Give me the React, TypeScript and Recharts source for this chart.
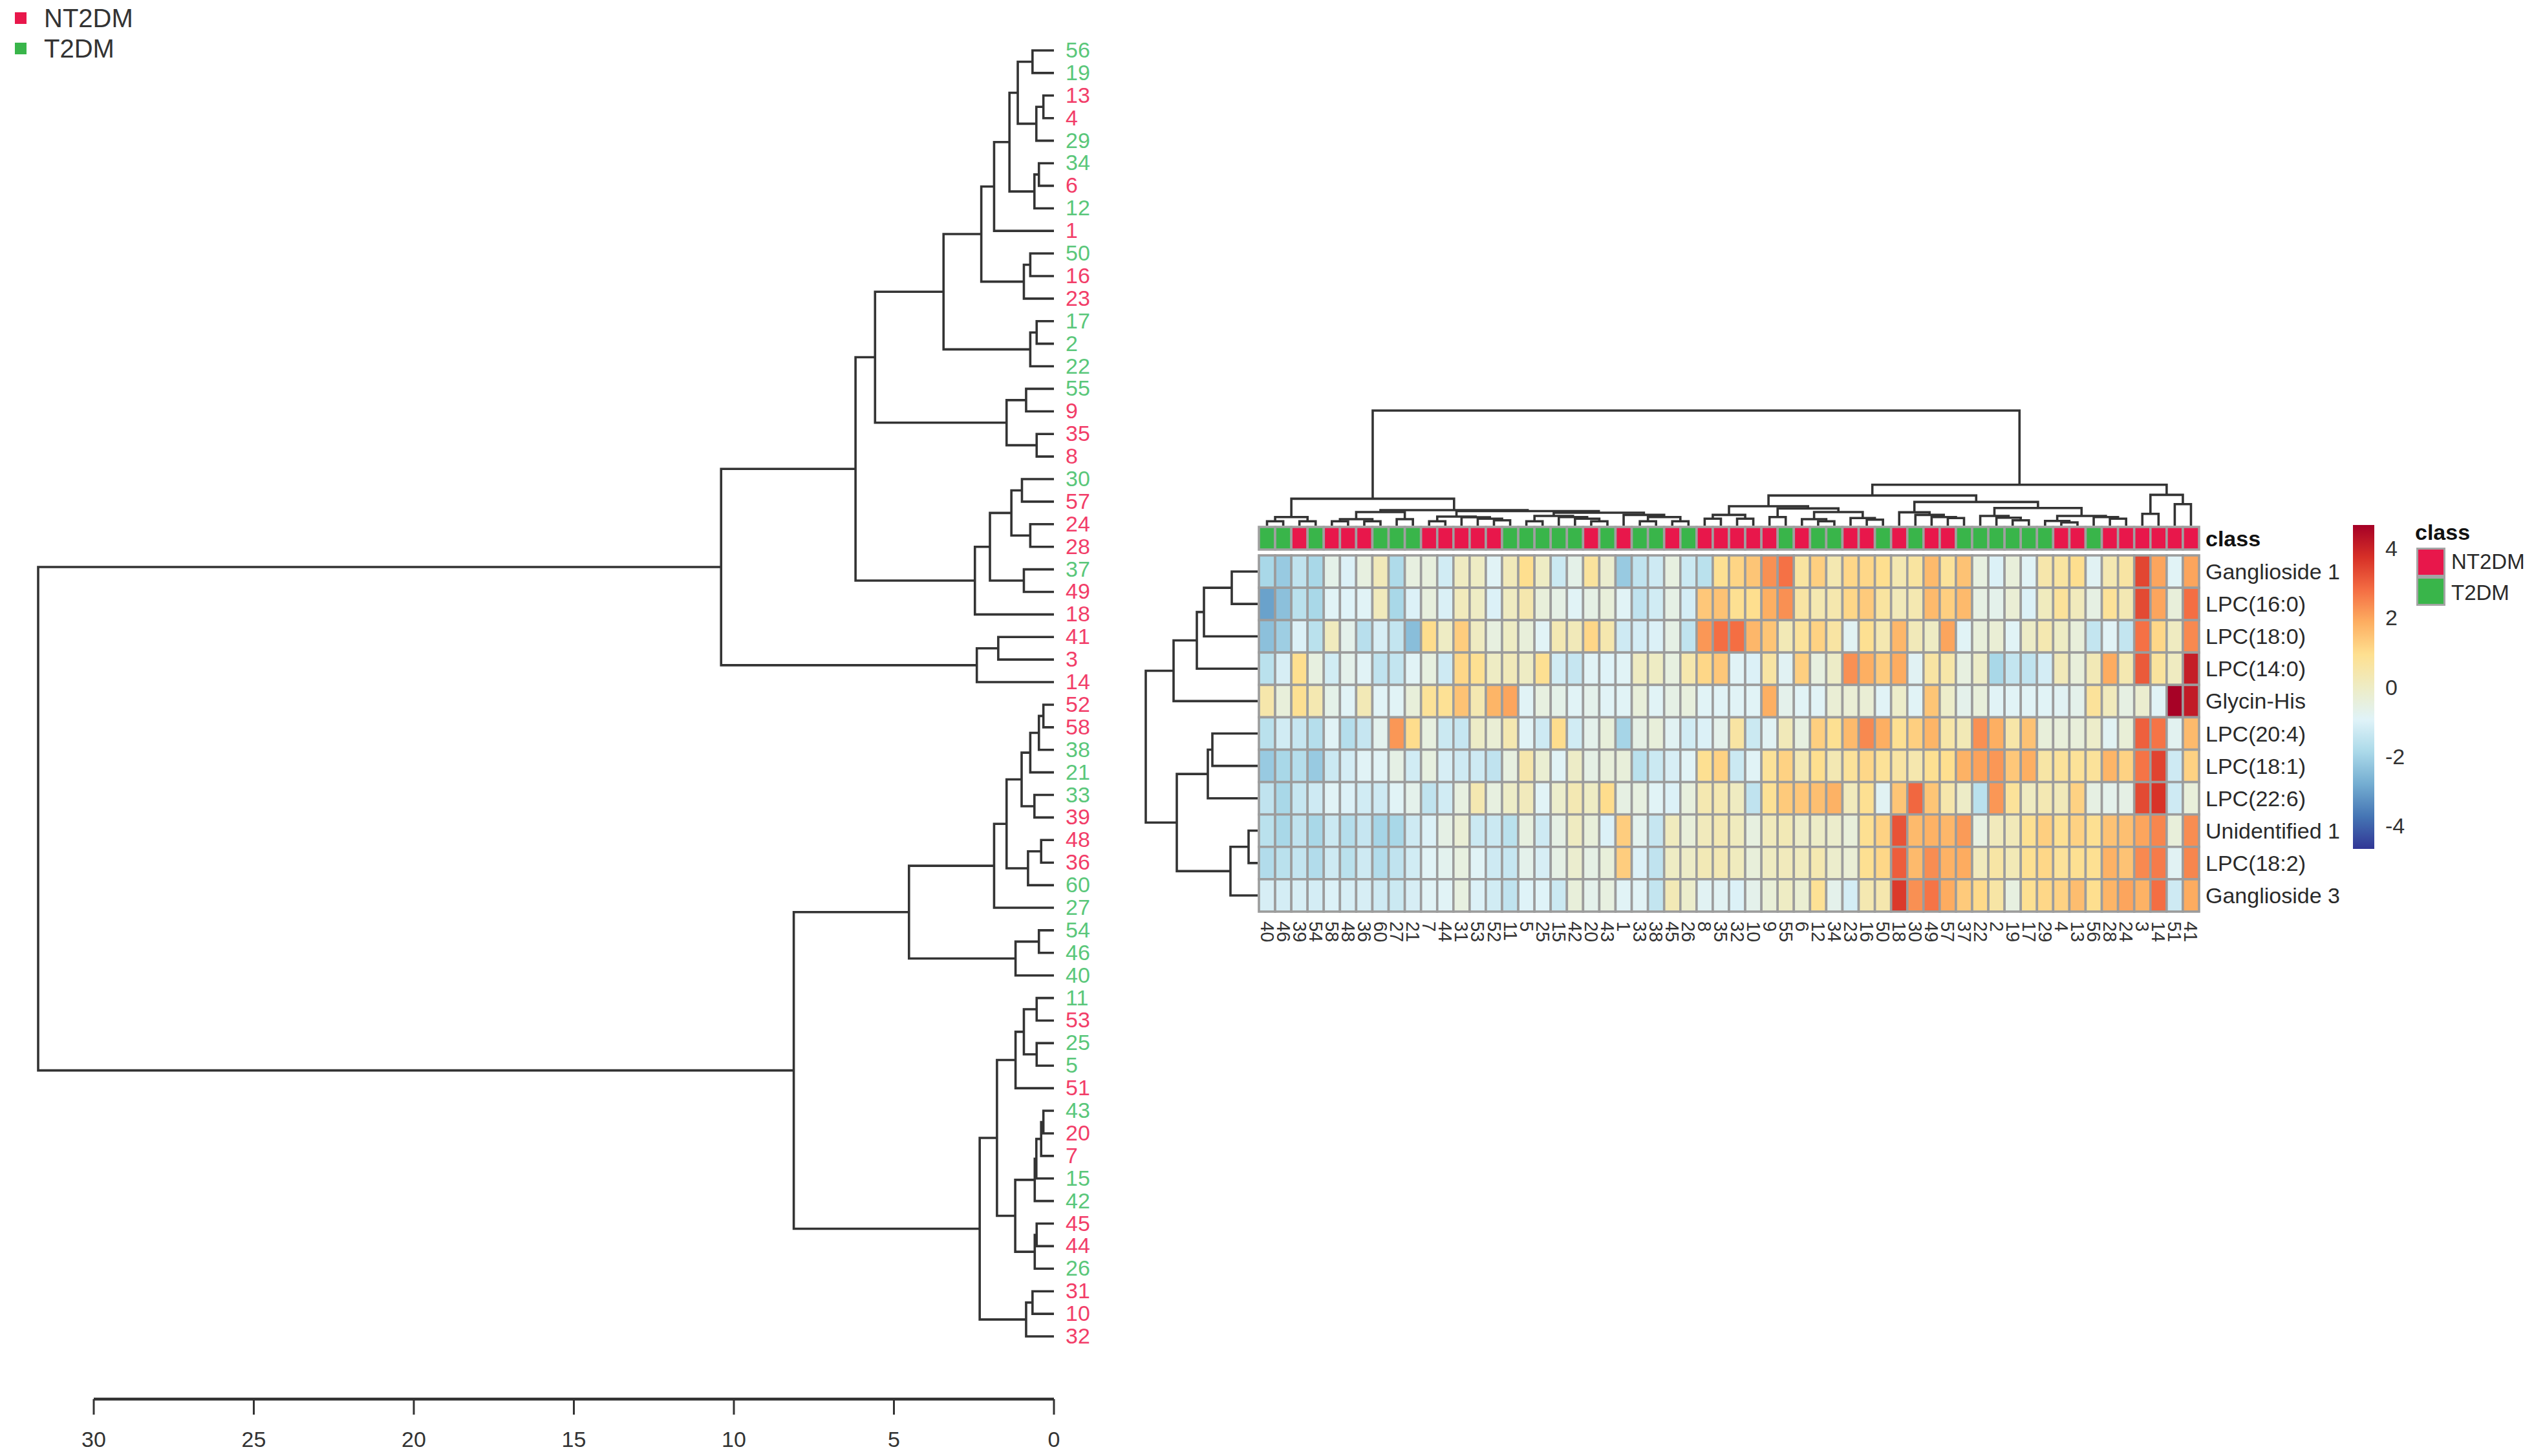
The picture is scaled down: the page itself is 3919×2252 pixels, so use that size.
import React from "react";
import { ScatterChart, Scatter, XAxis, YAxis, BarChart, Bar, Legend } from "recharts";

const FONT = "'Liberation Sans', Arial, sans-serif";

const classNames = ["NT2DM", "T2DM"];
const classColors = ["#e8174b", "#39b54a"];
const t2dmSamples = [56,19,29,34,12,50,17,2,22,55,30,37,38,21,33,60,27,54,46,40,11,25,5,43,15,42,26];

const rowLabels = ["Ganglioside 1","LPC(16:0)","LPC(18:0)","LPC(14:0)","Glycin-His","LPC(20:4)","LPC(18:1)","LPC(22:6)","Unidentified 1","LPC(18:2)","Ganglioside 3"];

// Colour stops, low to high
const palette = ["#313695","#4575b4","#74add1","#abd9e9","#e0f3f8","#eeecc4","#fee090","#fdae61","#f46d43","#d73027","#a50026"];
const colourLimit = 4.68;
const colourTicks = [-4,-2,0,2,4];
const distanceTicks = [30,25,20,15,10,5,0];

// Sample dendrogram (left): [merge height, left child, right child]
const upperA = [3.45,[2.27,[1.87,[1.39,[1.13,[0.67,56,19],[0.55,[0.33,13,4],29]],[0.61,[0.47,34,6],12]],1],[0.94,[0.74,50,16],23]],[0.74,[0.54,17,2],22]];
const upperB = [5.59,upperA,[1.48,[0.87,55,9],[0.54,35,8]]];
const upperC = [2.47,[2.0,[1.33,[1.0,30,57],[0.74,24,28]],[0.94,37,49]],18];
const upperTree = [10.4,[6.2,upperB,upperC],[2.41,[1.74,41,3],14]];
const lowerA = [4.53,[1.87,[1.48,[1.01,[0.74,[0.47,[0.33,52,58],38],21],[0.61,33,39]],[0.81,[0.4,48,36],60]],27],[1.2,[0.47,54,46],40]];
const lowerB = [1.78,[1.2,[0.94,[0.54,11,53],[0.54,25,5]],51],[1.21,[0.6,[0.55,[0.4,[0.33,43,20],7],15],42],[0.6,[0.54,45,44],26]]];
const lowerTree = [8.13,lowerA,[2.32,lowerB,[0.87,[0.67,31,10],32]]];
const sampleTree = [31.74,upperTree,lowerTree];

// Column dendrogram (top)
const colA = [1.33,[0.67,40,46],[0.67,39,54]];
const colB = [2.1,[1.0,[0.67,58,48],[0.67,36,60]],[1.0,27,21]];
const colC = [1.4,[0.67,7,44],[1.3,31,[1.07,53,[0.83,52,11]]]];
const colD = [1.5,[0.67,5,25],[1.33,15,[1.07,42,[0.67,20,43]]]];
const colE = [1.67,1,[1.33,[0.67,33,38],[0.67,45,26]]];
const colLeft = [4.17,colA,[2.4,colB,[2.25,colC,[2.0,colD,colE]]]];
const colF = [3.0,[1.67,[1.07,8,35],[1.07,32,10]],[2.67,[1.33,9,55],[2.1,[1.0,6,[0.67,12,34]],[1.17,23,[0.93,16,50]]]]];
const colG = [3.67,[2.07,18,[1.67,30,[1.33,49,[1.17,57,37]]]],[2.73,[1.5,22,[1.23,2,[0.83,19,17]]],[1.5,[0.73,29,[0.5,4,13]],[1.33,56,[1.07,28,24]]]]];
const colRight = [6.33,[4.67,colF,colG],[4.77,[1.83,3,14],[3.33,51,41]]];
const columnTree = [17.83,colLeft,colRight];

// Feature dendrogram (left of the heatmap); leaves are row numbers
const featureTree = [17.3,[13.0,[9.4,[8.3,[4.0,0,1],2],3],4],[12.5,[7.7,[7.0,5,6],7],[4.2,[1.4,8,9],10]]];

// Heatmap values by row, in column order
const row0 = [-1.9,-2.2,-1.5,-1.9,-0.65,-1.0,-0.5,0.2,-1.8,-0.5,-0.45,-1.2,0.05,0,-0.9,0.2,0.95,0,-1.3,-0.65,0.7,-0.2,-2.2,-1.5,-1.25,-0.5,-1.3,-1.6,0.9,1.15,1.45,2.3,2.75,0.65,1.25,0.35,1.1,1.1,0.95,0.35,0.65,1.65,0.75,1.5,-0.5,-1.0,-0.4,-0.9,0.45,0.65,0.95,-0.85,0.35,0.6,3.4,2.0,-0.9,2.0];
const row1 = [-3.0,-2.4,-1.6,-1.9,-0.9,-0.95,-0.9,0.15,-1.9,-1.0,-0.45,-1.05,0.15,0,-1.0,0.05,0.4,-0.4,-0.6,-0.9,-0.6,-0.4,-0.9,-1.5,-1.2,-0.6,-1.15,1.4,1.5,0.9,0.95,1.85,2.3,0.6,0.35,0.4,1.1,1.35,0.65,0.2,0.35,1.65,1.25,1.65,-0.55,-0.7,-0.3,-1.0,0.1,0.75,0.15,-0.55,0.8,0.3,3.35,2.0,-0.4,2.8];
const row2 = [-2.4,-2.1,-1.0,-1.6,0.1,-0.7,-1.65,-1.1,-1.45,-2.45,1.0,0,1.3,0.05,-0.5,0,-0.4,-0.9,0.3,0.2,1.1,0.4,-1.25,-1.15,-1.0,-0.6,-1.5,2.2,2.8,2.8,1.7,1.45,0.25,0.75,1.2,0.6,-0.85,0.9,0.35,1.7,0.2,0,2.0,-0.9,-0.4,-0.3,-0.9,-0.05,0.35,0,-0.4,-1.45,-0.9,-1.45,2.75,1.1,0.05,2.4];
const row3 = [-1.6,-1.1,0.95,-0.5,-1.2,-0.7,-0.9,-1.5,-1.45,-0.9,-0.5,-1.25,1.1,0.9,0,0.2,0,0.9,-1.2,-1.4,-0.9,-0.95,-0.9,0.05,0,-0.5,0.4,1.1,1.4,-0.9,-1.0,0.6,-0.85,1.25,-0.5,-0.05,2.3,1.85,1.35,1.9,-0.85,0.6,0.5,-0.5,-0.05,-1.9,-1.45,-1.5,-1.15,0.2,-0.4,0.25,1.9,0.35,3.1,0.7,0.05,4.1];
const row4 = [0.45,-0.4,0.9,0.35,-0.65,-0.9,0.25,-0.9,-0.9,-0.4,0.8,0.85,1.5,0.35,1.75,2.0,-0.9,-0.5,-0.65,-0.9,-0.7,-0.9,-0.9,-0.4,-0.9,-0.6,-0.45,-0.9,-0.9,-0.9,-0.9,1.85,-0.7,-0.9,-0.9,-0.3,-0.3,-0.3,-0.9,-0.1,-0.9,1.45,-0.1,-0.7,-0.4,-0.9,-0.9,-0.9,-0.9,-0.85,-0.7,0.75,0.15,-0.55,-0.2,-0.9,4.65,4.15];
const row5 = [-1.6,-1.2,-1.4,-1.7,-0.9,-1.7,-1.4,-0.75,2.2,1.0,-0.5,-1.3,-1.4,-0.05,-0.3,0.35,-0.9,-1.25,1.0,-1.2,-0.7,-0.4,-1.95,-0.6,-0.4,-0.85,-1.2,-1.0,-0.7,0.6,-1.3,-0.85,0.2,-0.5,1.25,0.9,1.65,2.4,1.85,0.9,1.25,1.75,0.5,0.25,2.3,1.85,0.5,1.5,-0.4,-0.4,-0.4,-0.1,-0.85,-0.35,3.0,2.7,-0.8,1.65];
const row6 = [-2.2,-1.9,-1.7,-2.2,-1.3,-1.15,-0.9,-0.9,-0.6,-1.2,-0.5,-1.1,-1.25,-1.25,-1.5,-0.5,0.45,-0.25,-0.9,-0.05,-0.6,-0.4,-0.4,-1.6,-1.3,-1.1,-0.9,0.9,1.2,-1.3,-0.9,0.8,1.2,0.3,0.95,0.3,0.75,1.1,0.8,0.6,0.4,0.9,0.95,1.8,2.05,2.2,1.4,1.85,0.55,0.75,0.8,0.75,1.75,1.2,2.7,3.45,-1.25,1.2];
const row7 = [-1.5,-1.9,-1.4,-1.25,-0.9,-1.0,-1.2,-1.25,-0.9,-0.7,-1.5,-1.2,-0.5,0.35,-0.5,-0.05,0.15,-0.9,-0.15,0.3,0,1.0,-0.55,-0.5,-0.9,-1.0,-0.45,0.35,0.35,0.05,-1.5,0.85,1.35,1.4,1.55,1.8,0.15,0.9,-0.85,1.45,2.9,1.45,0.45,-0.05,-1.6,2.2,0.75,0.05,0.3,0.2,1.2,-0.55,-0.7,-0.6,3.35,3.7,-1.25,-0.4];
const row8 = [-1.6,-1.9,-1.5,-1.9,-1.3,-1.7,-1.4,-1.95,-1.9,-1.25,-1.0,-0.6,-0.3,-1.3,-1.3,-1.6,-0.5,-1.25,-0.6,0.05,-0.4,-1.0,1.3,-0.75,-1.4,0.1,-0.4,0.15,0.3,0.1,-0.5,0.15,0.25,-0.05,-0.05,-0.15,-0.4,0.9,1.2,3.2,1.65,1.8,1.7,2.15,-0.5,0.15,0.2,0.9,1.25,0.9,1.2,0.9,1.5,1.55,2.0,2.45,-0.4,2.35];
const row9 = [-1.75,-1.6,-1.45,-1.75,-1.25,-1.6,-1.25,-1.75,-1.5,-1.2,-0.9,-0.75,-0.5,-0.9,-1.25,-1.4,-0.7,-1.1,-0.6,-0.2,-0.6,-0.4,1.3,-1.0,-1.5,0,-0.05,0.25,0.3,0.1,-0.4,0.05,0.15,0.1,0.35,-0.15,-0.3,0.9,1.1,3.05,1.65,2.35,1.8,1.9,0.15,0.55,0.25,0.9,1.1,0.75,0.9,0.9,1.8,1.5,2.4,2.6,-0.85,2.45];
const row10 = [-1.1,-1.15,-1.1,-1.15,-1.0,-1.1,-1.1,-1.25,-1.3,-1.1,-0.9,-0.9,-0.5,-1.0,-1.2,-1.5,-0.95,-0.95,-1.3,-0.4,-0.7,-0.5,-0.9,-0.9,-1.45,0.25,-0.15,-0.85,-0.85,-1.0,-0.7,-0.35,0,-0.25,0.85,-0.7,-1.15,0.35,0.4,3.6,2.3,2.7,1.9,1.35,1.05,0.55,-0.5,0.9,1.1,1.2,1.6,0.95,1.75,2.0,1.8,2.8,-1.25,1.9];
const heatRows = [row0,row1,row2,row3,row4,row5,row6,row7,row8,row9,row10];

// Helpers
const flatten = (n: any): number[] => (Array.isArray(n) ? [...flatten(n[1]), ...flatten(n[2])] : [n]);
function merges(tree: any) {
  const order = flatten(tree);
  const out: { p: number; h: number }[][] = [];
  const walk = (n: any): { p: number; h: number } => {
    if (!Array.isArray(n)) return { p: order.indexOf(n), h: 0 };
    const a = walk(n[1]);
    const b = walk(n[2]);
    const h = n[0];
    out.push([a, { p: a.p, h }, { p: b.p, h }, b]);
    return { p: (a.p + b.p) / 2, h };
  };
  walk(tree);
  return out;
}
function colourOf(v: number) {
  const t = Math.max(0, Math.min(0.99999, (v + colourLimit) / (2 * colourLimit))) * (palette.length - 1);
  const i = Math.floor(t);
  const f = t - i;
  const hex = (s: string, k: number) => parseInt(s.slice(1 + 2 * k, 3 + 2 * k), 16);
  const c = [0, 1, 2].map((k) => Math.round(hex(palette[i], k) * (1 - f) + hex(palette[i + 1], k) * f));
  return `rgb(${c[0]},${c[1]},${c[2]})`;
}
const classOf = (s: number) => (t2dmSamples.includes(s) ? 1 : 0);

const sampleOrder = flatten(sampleTree);
const columnOrder = flatten(columnTree);
const sampleSegments = merges(sampleTree).map((m) => m.map((q) => ({ x: q.h, y: q.p })));
const columnSegments = merges(columnTree).map((m) => m.map((q) => ({ x: q.p, y: q.h })));
const featureSegments = merges(featureTree).map((m) => m.map((q) => ({ x: q.h, y: q.p })));
const heatCells = heatRows.flatMap((r, y) => r.map((v, x) => ({ x, y, v })));
const classCells = columnOrder.map((s, x) => ({ x, y: 0, c: classOf(s) }));
const colourBar = [{ k: "z", r: [-colourLimit, colourLimit] }];

const LINE = { stroke: "#333333", strokeWidth: 3.6 };
const NoPoint = () => <g />;
const TreeSeries = (segs: any[]) =>
  segs.map((s, i) => <Scatter key={i} data={s} line={LINE} shape={NoPoint} isAnimationActive={false} legendType="none" />);

const place = (left: number, top: number): React.CSSProperties => ({ position: "absolute", left, top });

const COL_W = 1454 / 58;
const ROW_H = 551 / 11;

const HeatCell = (p: any) => (
  <rect x={p.cx - COL_W / 2} y={p.cy - ROW_H / 2} width={COL_W} height={ROW_H} fill={colourOf(p.payload.v)} stroke="#9c9c9c" strokeWidth={3.6} />
);
const ClassCell = (p: any) => (
  <rect x={p.cx - COL_W / 2} y={p.cy - 17.5} width={COL_W} height={35} fill={classColors[p.payload.c]} stroke="#a0a0a0" strokeWidth={3.6} />
);

const SampleTick = (p: any) => {
  const s = sampleOrder[p.payload.value];
  return (
    <text x={p.x + 16} y={p.y - 1} dominantBaseline="central" fontSize={34} fontFamily={FONT} fill={classOf(s) ? "#5ac77a" : "#f23d68"}>
      {s}
    </text>
  );
};
const ColumnTick = (p: any) => (
  <text x={p.x} y={p.y} transform={`rotate(90 ${p.x} ${p.y})`} dominantBaseline="central" fontSize={29} fontFamily={FONT} fill="#333">
    {columnOrder[p.payload.value]}
  </text>
);
const RowTick = (p: any) => (
  <text x={p.x - 3} y={p.y} dominantBaseline="central" fontSize={34} fontFamily={FONT} fill="#2a2a2a">
    {rowLabels[p.payload.value]}
  </text>
);
const ClassTick = (p: any) => (
  <text x={p.x - 3} y={p.y} dominantBaseline="central" fontSize={34} fontWeight="bold" fontFamily={FONT} fill="#111">
    class
  </text>
);
const ColourTick = (p: any) => (
  <text x={p.x} y={p.y} dominantBaseline="central" fontSize={34} fontFamily={FONT} fill="#333">
    {p.payload.value}
  </text>
);

const TopLegend = () => (
  <div style={{ position: "relative", width: 280, height: 110, fontFamily: FONT, fontSize: 40, color: "#333" }}>
    {classNames.map((n, i) => (
      <React.Fragment key={n}>
        <div style={{ position: "absolute", left: 23, top: 19 + i * 47, width: 18, height: 18, background: classColors[i] }} />
        <div style={{ position: "absolute", left: 68, top: 5 + i * 47, lineHeight: "46px" }}>{n}</div>
      </React.Fragment>
    ))}
  </div>
);
const SideLegend = () => (
  <div style={{ position: "relative", width: 182, height: 150, fontFamily: FONT, fontSize: 33, color: "#2a2a2a" }}>
    <div style={{ position: "absolute", left: -2, top: 3, fontWeight: "bold", color: "#111", lineHeight: "40px", fontSize: 34 }}>class</div>
    {classNames.map((n, i) => (
      <React.Fragment key={n}>
        <div style={{ position: "absolute", left: 0, top: 47 + i * 45, width: 45, height: 45, boxSizing: "border-box", border: "3px solid #a4a4a4", background: classColors[i] }} />
        <div style={{ position: "absolute", left: 54, top: 49 + i * 48, lineHeight: "40px" }}>{n}</div>
      </React.Fragment>
    ))}
  </div>
);

const ZERO = { top: 0, right: 0, bottom: 0, left: 0 };

export default function App() {
  return (
    <div style={{ position: "absolute", left: 0, top: 0, width: 3919, height: 2252, background: "#fff", overflow: "hidden", fontFamily: FONT }}>
      <div style={place(0, 0)}>
        <ScatterChart width={300} height={120} margin={ZERO}>
          <XAxis type="number" dataKey="x" hide domain={[0, 1]} />
          <YAxis type="number" dataKey="y" hide domain={[0, 1]} />
          {classNames.map((n, i) => (
            <Scatter key={n} name={n} data={[]} fill={classColors[i]} isAnimationActive={false} />
          ))}
          <Legend content={TopLegend} verticalAlign="middle" wrapperStyle={{ left: 0, top: 0, width: 300 }} />
        </ScatterChart>
      </div>

      {/* Sample dendrogram with coloured leaf labels */}
      <div style={place(0, 0)}>
        <ScatterChart width={1780} height={2100} margin={{ top: 78, right: 0, bottom: 33, left: 59 }}>
          <XAxis type="number" dataKey="x" hide reversed domain={[0, sampleTree[0] as number]} />
          <YAxis
            type="number"
            dataKey="y"
            orientation="right"
            reversed
            width={150}
            domain={[0, sampleOrder.length - 1]}
            ticks={sampleOrder.map((_, i) => i)}
            interval={0}
            axisLine={false}
            tickLine={false}
            tickSize={0}
            tick={SampleTick}
          />
          {TreeSeries(sampleSegments)}
        </ScatterChart>
      </div>

      {/* Distance axis */}
      <div style={place(105, 2160)}>
        <ScatterChart width={1565} height={92} margin={{ top: 0, right: 40, bottom: 0, left: 40 }}>
          <XAxis
            type="number"
            dataKey="x"
            reversed
            domain={[0, 30]}
            ticks={distanceTicks}
            interval={0}
            height={88}
            tickSize={24}
            tickMargin={26}
            axisLine={{ stroke: "#333333", strokeWidth: 4.5 }}
            tickLine={{ stroke: "#333333", strokeWidth: 3 }}
            tick={{ fontSize: 34, fontFamily: FONT, fill: "#333" }}
          />
          <YAxis type="number" dataKey="y" hide domain={[0, 1]} />
          <Scatter data={distanceTicks.map((x) => ({ x, y: 0 }))} shape={NoPoint} isAnimationActive={false} />
        </ScatterChart>
      </div>

      {/* Column dendrogram */}
      <div style={place(1947, 630)}>
        <ScatterChart width={1454} height={183} margin={{ top: 5, right: 0, bottom: 0, left: 0 }}>
          <XAxis type="number" dataKey="x" hide domain={[-0.5, columnOrder.length - 0.5]} />
          <YAxis type="number" dataKey="y" hide domain={[0, columnTree[0] as number]} />
          {TreeSeries(columnSegments)}
        </ScatterChart>
      </div>

      {/* Feature dendrogram */}
      <div style={place(1767, 859)}>
        <ScatterChart width={178} height={551} margin={{ top: 0, right: 0, bottom: 0, left: 5 }}>
          <XAxis type="number" dataKey="x" hide reversed domain={[0, featureTree[0] as number]} />
          <YAxis type="number" dataKey="y" hide reversed domain={[-0.5, rowLabels.length - 0.5]} />
          {TreeSeries(featureSegments)}
        </ScatterChart>
      </div>

      {/* Class annotation band */}
      <div style={place(1945, 813)}>
        <ScatterChart width={1680} height={39} margin={{ top: 2, right: 0, bottom: 2, left: 2 }}>
          <XAxis type="number" dataKey="x" hide domain={[-0.5, columnOrder.length - 0.5]} />
          <YAxis
            type="number"
            dataKey="y"
            orientation="right"
            width={224}
            domain={[-0.5, 0.5]}
            ticks={[0]}
            axisLine={false}
            tickLine={false}
            tickSize={11}
            tick={ClassTick}
          />
          <Scatter data={classCells} shape={ClassCell} isAnimationActive={false} />
        </ScatterChart>
      </div>

      {/* Heatmap */}
      <div style={place(1945, 857)}>
        <ScatterChart width={1680} height={620} margin={{ top: 2, right: 0, bottom: 0, left: 2 }}>
          <XAxis
            type="number"
            dataKey="x"
            domain={[-0.5, columnOrder.length - 0.5]}
            ticks={columnOrder.map((_, i) => i)}
            interval={0}
            height={67}
            axisLine={false}
            tickLine={false}
            tickSize={13}
            tick={ColumnTick}
          />
          <YAxis
            type="number"
            dataKey="y"
            orientation="right"
            reversed
            width={224}
            domain={[-0.5, rowLabels.length - 0.5]}
            ticks={rowLabels.map((_, i) => i)}
            interval={0}
            axisLine={false}
            tickLine={false}
            tickSize={11}
            tick={RowTick}
          />
          <Scatter data={heatCells} shape={HeatCell} isAnimationActive={false} />
        </ScatterChart>
      </div>

      {/* Colour bar */}
      <div style={place(3639, 812)}>
        <BarChart width={110} height={501} data={colourBar} margin={ZERO} barCategoryGap={0}>
          <defs>
            <linearGradient id="colourBarFill" x1="0" y1="0" x2="0" y2="1">
              {[...palette].reverse().map((c, i) => (
                <stop key={c} offset={i / (palette.length - 1)} stopColor={c} />
              ))}
            </linearGradient>
          </defs>
          <XAxis dataKey="k" hide />
          <YAxis
            type="number"
            orientation="right"
            width={77}
            domain={[-colourLimit, colourLimit]}
            ticks={colourTicks}
            interval={0}
            axisLine={false}
            tickLine={false}
            tickSize={15}
            tick={ColourTick}
          />
          <Bar dataKey="r" fill="url(#colourBarFill)" isAnimationActive={false} />
        </BarChart>
      </div>

      <div style={place(3737, 800)}>
        <ScatterChart width={182} height={150} margin={ZERO}>
          <XAxis type="number" dataKey="x" hide domain={[0, 1]} />
          <YAxis type="number" dataKey="y" hide domain={[0, 1]} />
          {classNames.map((n, i) => (
            <Scatter key={n} name={n} data={[]} fill={classColors[i]} isAnimationActive={false} />
          ))}
          <Legend content={SideLegend} verticalAlign="middle" wrapperStyle={{ left: 0, top: 0, width: 182 }} />
        </ScatterChart>
      </div>
    </div>
  );
}
